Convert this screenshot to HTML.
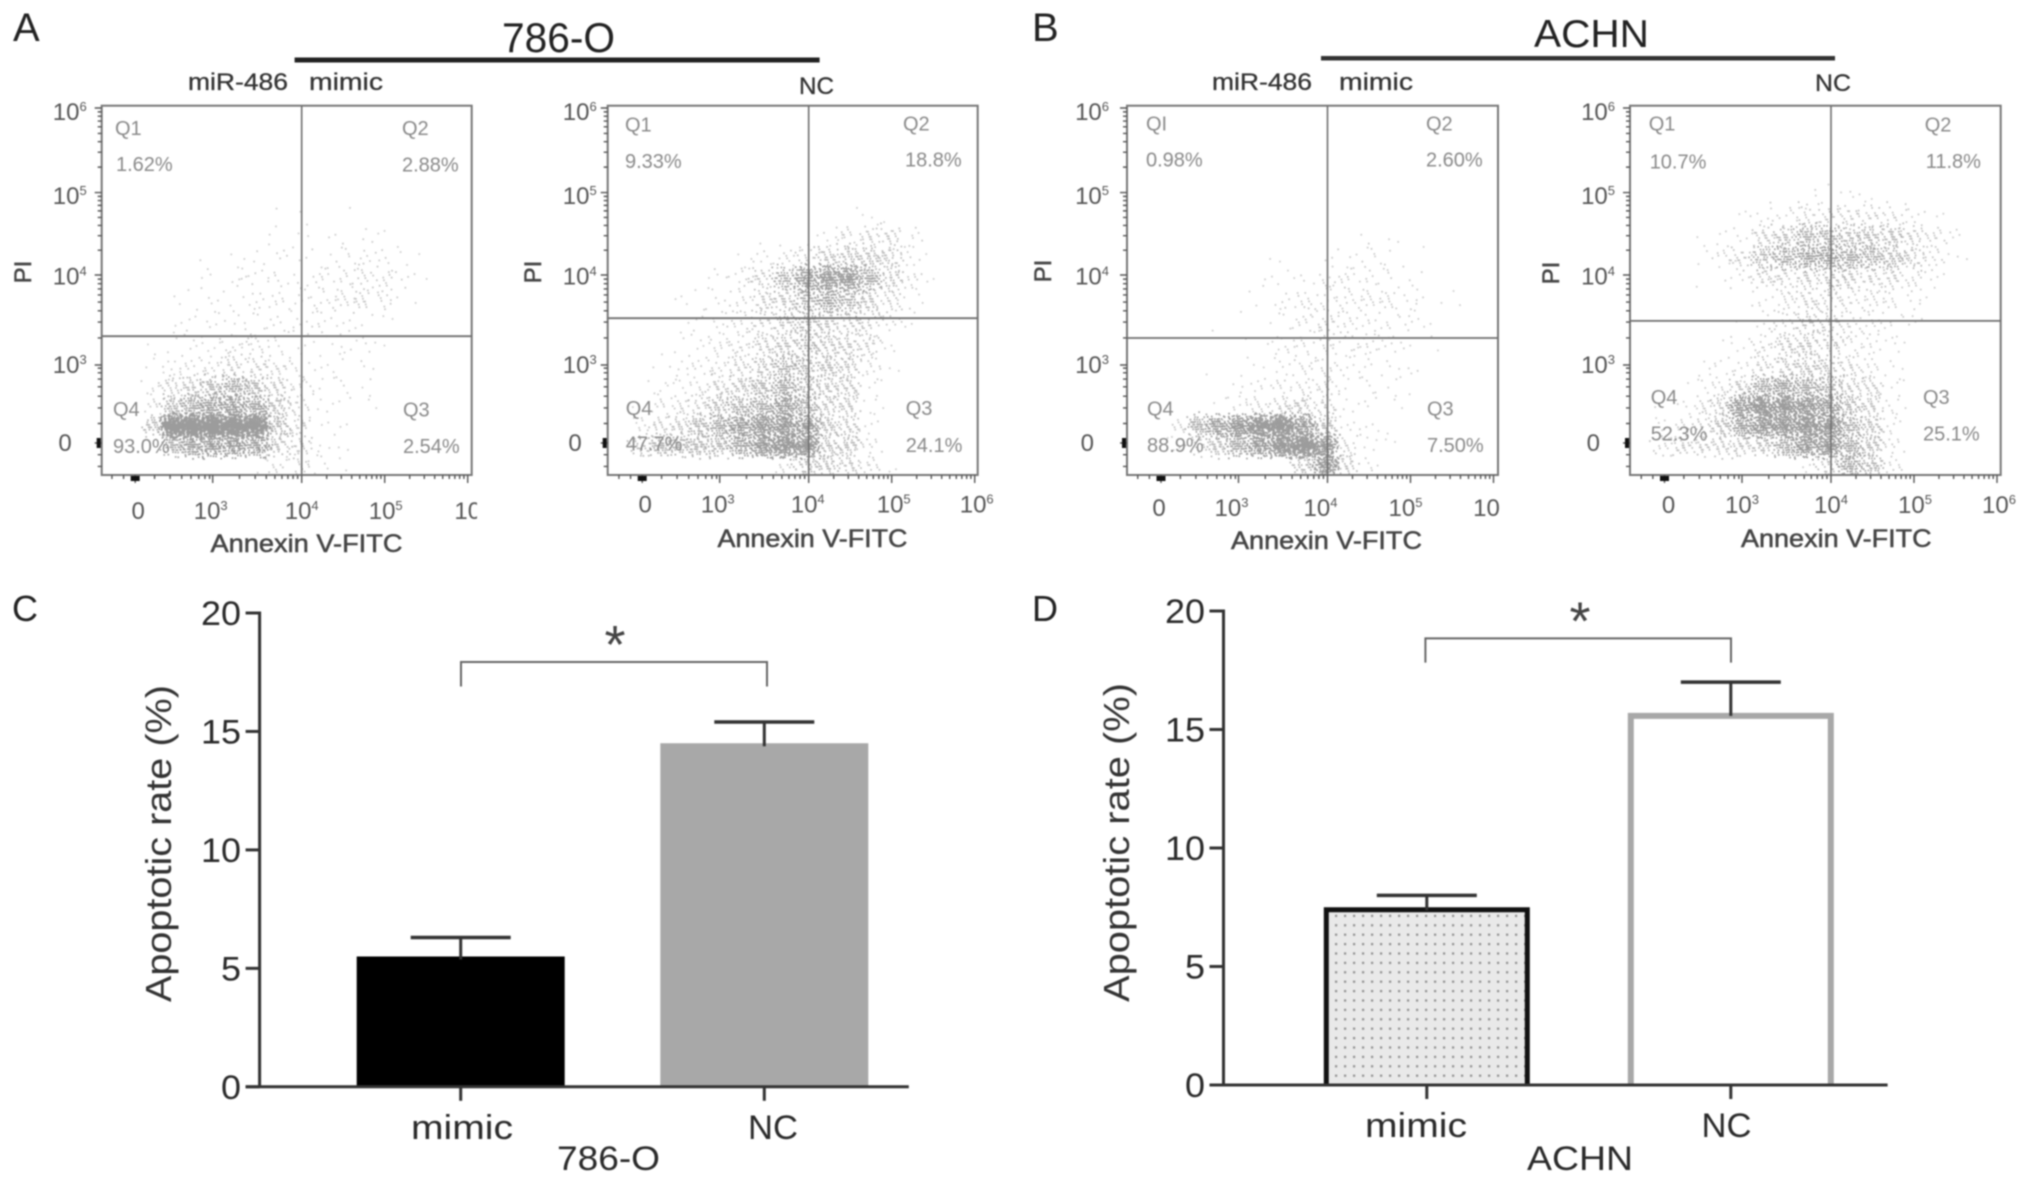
<!DOCTYPE html>
<html lang="en">
<head>
<meta charset="utf-8">
<title>Apoptosis flow cytometry and bar charts</title>
<style>
html,body{margin:0;padding:0;background:#fff;}
body{width:2031px;height:1183px;overflow:hidden;}
svg{display:block;filter:blur(0.7px);}
text{font-family:"Liberation Sans",sans-serif;}
.q{font-size:20px;fill:#8a8a8a;}
.hdr{font-size:24px;fill:#333;stroke:#333;stroke-width:.3;}
.ann{font-size:25px;fill:#444;stroke:#444;stroke-width:.5;}
.pi{font-size:24px;fill:#444;stroke:#444;stroke-width:.5;}
.lab{fill:#222;}
.cat{font-size:34px;fill:#2a2a2a;}
.ytitle{font-size:36px;fill:#333;}
</style>
</head>
<body>
<svg id="figure" xmlns="http://www.w3.org/2000/svg" width="2031" height="1183" viewBox="0 0 2031 1183">
<defs>
<pattern id="dot-pattern" width="9" height="9.4" patternUnits="userSpaceOnUse"><rect width="9" height="9.4" fill="#e9e9e9"/><rect x="3" y="3" width="2.2" height="2.2" fill="#8f8f8f"/></pattern>
<clipPath id="clip-a1"><rect x="101.7" y="105.7" width="370" height="369.3"/></clipPath>
<clipPath id="clip-a2"><rect x="607.7" y="105.7" width="370" height="369.3"/></clipPath>
<clipPath id="clip-b1"><rect x="1127" y="105.7" width="371" height="369.3"/></clipPath>
<clipPath id="clip-b2"><rect x="1630" y="105.7" width="370.7" height="369.3"/></clipPath>
<clipPath id="clip-a1-label"><rect x="440" y="490" width="37" height="40"/></clipPath>
</defs>

<g id="flow-layer"></g>
<g id="bar-layer"></g>

<text class="lab" x="13" y="41" font-size="40">A</text>
<text class="lab" x="1032" y="41" font-size="40">B</text>
<text class="lab" x="12" y="621" font-size="36">C</text>
<text class="lab" x="1032" y="621" font-size="36">D</text>

<text class="lab" x="502" y="52" font-size="42" textLength="113" lengthAdjust="spacingAndGlyphs">786-O</text>
<rect x="294.6" y="57.5" width="525" height="5" fill="#222"/>
<text class="lab" x="1534" y="47" font-size="39" textLength="115" lengthAdjust="spacingAndGlyphs">ACHN</text>
<rect x="1321" y="56" width="514" height="4.5" fill="#333"/>

<text class="hdr" x="188" y="90" textLength="100" lengthAdjust="spacingAndGlyphs">miR-486</text>
<text class="hdr" x="309" y="90" textLength="74" lengthAdjust="spacingAndGlyphs">mimic</text>
<text class="hdr" x="799" y="94" textLength="35" lengthAdjust="spacingAndGlyphs">NC</text>
<text class="hdr" x="1212" y="90" textLength="100" lengthAdjust="spacingAndGlyphs">miR-486</text>
<text class="hdr" x="1339" y="90" textLength="74" lengthAdjust="spacingAndGlyphs">mimic</text>
<text class="hdr" x="1815" y="91" textLength="36" lengthAdjust="spacingAndGlyphs">NC</text>

<g>
<text class="q" x="115" y="135">Q1</text>
<text class="q" x="116" y="171">1.62%</text>
<text class="q" x="402" y="135">Q2</text>
<text class="q" x="402" y="171.7">2.88%</text>
<text class="q" x="113" y="416">Q4</text>
<text class="q" x="113" y="453">93.0%</text>
<text class="q" x="403" y="416.7">Q3</text>
<text class="q" x="403" y="453">2.54%</text>
</g>
<g>
<text class="q" x="625" y="131.7">Q1</text>
<text class="q" x="625" y="168">9.33%</text>
<text class="q" x="903" y="130.7">Q2</text>
<text class="q" x="905" y="166.7">18.8%</text>
<text class="q" x="625.7" y="415">Q4</text>
<text class="q" x="625.7" y="450.7">47.7%</text>
<text class="q" x="905.7" y="415">Q3</text>
<text class="q" x="905.7" y="452">24.1%</text>
</g>
<g>
<text class="q" x="1146" y="130.7">QI</text>
<text class="q" x="1146" y="166.7">0.98%</text>
<text class="q" x="1426" y="130.7">Q2</text>
<text class="q" x="1426" y="166.7">2.60%</text>
<text class="q" x="1147" y="415.7">Q4</text>
<text class="q" x="1147" y="452">88.9%</text>
<text class="q" x="1427" y="415.7">Q3</text>
<text class="q" x="1427" y="452">7.50%</text>
</g>
<g>
<text class="q" x="1648.7" y="130.7">Q1</text>
<text class="q" x="1649.7" y="168.3">10.7%</text>
<text class="q" x="1924.7" y="131.7">Q2</text>
<text class="q" x="1925.7" y="168">11.8%</text>
<text class="q" x="1650.7" y="404">Q4</text>
<text class="q" x="1650.7" y="440.7">52.3%</text>
<text class="q" x="1923" y="404">Q3</text>
<text class="q" x="1923" y="440.7">25.1%</text>
</g>

<text class="ann" x="210.5" y="552" textLength="192" lengthAdjust="spacingAndGlyphs">Annexin V-FITC</text>
<text class="ann" x="717.5" y="547" textLength="190" lengthAdjust="spacingAndGlyphs">Annexin V-FITC</text>
<text class="ann" x="1231" y="549" textLength="191" lengthAdjust="spacingAndGlyphs">Annexin V-FITC</text>
<text class="ann" x="1741" y="547" textLength="190.6" lengthAdjust="spacingAndGlyphs">Annexin V-FITC</text>
<text class="pi" text-anchor="middle" transform="translate(31 272) rotate(-90)">PI</text>
<text class="pi" text-anchor="middle" transform="translate(541 272) rotate(-90)">PI</text>
<text class="pi" text-anchor="middle" transform="translate(1051 271) rotate(-90)">PI</text>
<text class="pi" text-anchor="middle" transform="translate(1559 273) rotate(-90)">PI</text>

<text class="ytitle" text-anchor="middle" textLength="317" lengthAdjust="spacingAndGlyphs" transform="translate(171 843.6) rotate(-90)">Apoptotic rate (%)</text>
<text class="ytitle" text-anchor="middle" textLength="319" lengthAdjust="spacingAndGlyphs" transform="translate(1129 842.5) rotate(-90)">Apoptotic rate (%)</text>
<text class="cat" x="557" y="1170" textLength="103" lengthAdjust="spacingAndGlyphs">786-O</text>
<text class="cat" x="1527" y="1170" textLength="106" lengthAdjust="spacingAndGlyphs">ACHN</text>
</svg>

<script>
// Flow cytometry: dot counts per grid cell.
// Rows run top to bottom, columns left to right, on the biexponential display axes.
const flowTickLabels = ['0', '3', '4', '5', '6'];
const yDecadeValues = [0, 1, 2, 3, 4];
const a1Counts = [
[0,0,0,0,0,0,0,0,1,0,0,0,0,0,0,0,0,0],
[0,0,0,0,0,0,0,0,0,2,0,1,0,0,0,0,0,0],
[0,0,0,0,0,0,0,1,2,2,0,3,3,2,0,0,0,0],
[0,0,0,0,0,1,2,4,4,3,3,6,7,6,3,1,0,0],
[0,0,0,0,1,3,4,6,6,4,8,10,14,12,4,1,0,0],
[0,0,0,1,3,4,5,7,7,6,10,12,16,10,3,0,0,0],
[0,0,0,2,3,4,5,6,8,4,8,4,3,2,0,0,0,0],
[0,0,2,3,5,5,12,12,8,4,3,4,4,2,0,0,0,0],
[0,0,3,8,10,14,24,24,16,6,4,4,4,0,0,0,0,0],
[0,0,6,26,36,50,70,50,30,10,4,4,2,0,0,0,0,0],
[0,0,10,50,70,90,100,80,40,14,3,2,2,0,0,0,0,0],
[0,0,40,260,290,300,300,250,50,18,4,2,0,0,0,0,0,0],
[0,0,0,60,80,100,110,90,36,20,4,2,0,0,0,0,0,0],
[0,0,0,0,0,0,0,2,10,14,6,2,0,0,0,0,0,0]];
const a2Counts = [
[0,0,0,0,0,0,0,0,0,0,0,0,0,0,0,0,0,0],
[0,0,0,0,0,0,0,0,0,0,0,1,2,2,0,0,0,0],
[0,0,0,0,0,0,0,0,0,0,6,14,18,22,6,0,0,0],
[0,0,0,0,0,0,2,8,12,18,36,40,40,30,8,1,0,0],
[0,0,0,0,1,4,10,26,60,110,130,130,70,36,10,2,0,0],
[0,0,0,2,3,6,14,26,36,60,80,60,36,20,6,0,0,0],
[0,0,0,1,3,6,14,24,36,50,36,30,24,10,3,0,0,0],
[0,0,0,3,5,12,16,28,40,50,40,34,22,4,0,0,0,0],
[0,0,2,5,10,14,24,40,60,50,40,36,12,2,0,0,0,0],
[0,0,4,8,10,24,36,50,70,50,36,30,6,0,0,0,0,0],
[0,1,10,14,20,44,60,70,100,60,36,30,4,0,0,0,0,0],
[0,8,20,30,50,70,100,130,140,110,40,30,6,0,0,0,0,0],
[0,30,50,50,50,50,80,130,170,150,40,36,10,0,0,0,0,0],
[0,0,0,0,0,0,0,0,10,40,36,30,14,2,0,0,0,0]];
const b1Counts = [
[0,0,0,0,0,0,0,0,0,0,0,0,0,0,0,0,0,0],
[0,0,0,0,0,0,0,0,0,0,0,0,0,0,0,0,0,0],
[0,0,0,0,0,0,0,0,0,0,0,2,2,0,0,0,0,0],
[0,0,0,0,0,0,0,2,0,2,4,6,3,0,1,0,0,0],
[0,0,0,0,0,0,2,2,4,8,10,8,6,4,0,0,0,0],
[0,0,0,0,0,1,3,6,10,12,12,12,12,6,3,2,0,0],
[0,0,0,0,1,0,0,5,12,16,12,8,8,6,2,0,0,0],
[0,0,0,0,0,0,2,8,10,12,8,10,6,3,2,0,0,0],
[0,0,0,1,0,2,2,6,10,12,6,6,4,3,0,0,0,0],
[0,0,0,0,0,3,6,10,14,14,4,4,4,2,0,0,0,0],
[0,0,0,0,4,8,16,24,30,20,4,3,2,0,0,0,0,0],
[0,0,10,60,90,130,190,220,120,40,6,3,2,0,0,0,0,0],
[0,0,4,20,40,70,120,180,240,130,16,4,2,0,0,0,0,0],
[0,0,0,0,0,0,0,0,40,130,30,6,1,0,0,0,0,0]];
const b2Counts = [
[0,0,0,0,0,0,0,0,2,4,3,2,0,0,0,0,0,0],
[0,0,0,0,0,2,6,12,18,18,18,18,14,8,2,0,0,0],
[0,0,0,1,3,6,24,40,60,60,44,44,40,26,14,4,0,0],
[0,0,0,3,8,20,50,70,80,84,70,60,50,30,14,3,0,0],
[0,0,0,1,3,6,20,24,30,36,30,24,24,14,4,0,0,0],
[0,0,0,0,0,0,8,14,20,24,14,14,10,6,2,0,0,0],
[0,0,0,0,0,1,6,18,30,26,14,12,6,4,0,0,0,0],
[0,0,0,0,2,3,16,30,36,30,14,8,4,1,0,0,0,0],
[0,0,0,3,6,10,20,34,40,36,20,12,4,0,0,0,0,0],
[0,0,0,6,12,30,70,80,70,60,30,24,6,0,0,0,0,0],
[0,1,4,14,30,110,170,160,130,100,50,30,8,0,0,0,0,0],
[0,4,10,20,40,80,130,140,170,140,60,40,8,0,0,0,0,0],
[0,14,24,24,24,30,40,70,120,130,70,40,10,0,0,0,0,0],
[0,0,0,0,0,0,0,0,4,30,70,50,10,0,0,0,0,0]];

// Bar charts
const barCategories = ['mimic', 'NC'];
const c786Values = [5.5, 14.5];
const c786ErrorTops = [6.3, 15.4];
const dAchnValues = [7.5, 15.7];
const dAchnErrorTops = [8.0, 17.0];
const barTickValues = [0, 5, 10, 15, 20];

const NS = 'http://www.w3.org/2000/svg';
function make(parent, tag, attrs, txt) {
  const el = document.createElementNS(NS, tag);
  for (const k in attrs) el.setAttribute(k, attrs[k]);
  if (txt !== undefined) el.textContent = txt;
  parent.appendChild(el);
  return el;
}
function piecewise(domain, range) {
  return function (v) {
    let i = 0;
    while (i < domain.length - 2 && v > domain[i + 1]) i++;
    return range[i] + (v - domain[i]) * (range[i + 1] - range[i]) / (domain[i + 1] - domain[i]);
  };
}
function frac(v) { return v - Math.floor(v); }

const flowPanels = [
  {key:'a-mimic', clip:'clip-a1', counts:a1Counts, left:101.7, right:471.7, shift:0, hGate:1.32, yGap:15, xBase:519, labelShift:[3,-2,0,1,0], lastLabel:'10', lastClip:'clip-a1-label'},
  {key:'a-nc', clip:'clip-a2', counts:a2Counts, left:607.7, right:977.7, shift:1, hGate:1.52, yGap:11, xBase:512.5, labelShift:[3,-2,-1,2,2], lastLabel:null, lastClip:null},
  {key:'b-mimic', clip:'clip-b1', counts:b1Counts, left:1127, right:1498, shift:0.5, hGate:1.30, yGap:18, xBase:516, labelShift:[-2,-7,-7,-5,-7], lastLabel:'10', lastClip:null},
  {key:'b-nc', clip:'clip-b2', counts:b2Counts, left:1630, right:2000.7, shift:1, hGate:1.49, yGap:15, xBase:513, labelShift:[4,0,0,1,2], lastLabel:null, lastClip:null}
];
const yLabelDrop = [8, 8, 9.5, 11.5, 12];
const flowLayer = document.getElementById('flow-layer');
const TOP = 105.7, BOTTOM = 475;

flowPanels.forEach(function (p) {
  const g = make(flowLayer, 'g', {});
  
  
  const x = piecewise(yDecadeValues, [33.5, 111, 200, 283, 366].map(function (o) { return p.left + p.shift + o; }));
  const y = piecewise(yDecadeValues, [443, 365, 275, 192.6, 108]);

  const dots = make(g, 'g', {'clip-path': 'url(#' + p.clip + ')', fill: '#9c9c9c'});
  
  
  p.counts.forEach(function (row, r) {
    row.forEach(function (n, c) {
      if (!n) return;
      const x0 = x(-0.4 + 0.25 * c), x1 = x(-0.4 + 0.25 * (c + 1));
      const y0 = y(3.1 - 0.25 * r), y1 = y(3.1 - 0.25 * (r + 1));
      let d = '';
      for (let k = 0; k < n; k++) {
        const i = k + 1;
        const su = frac(i * 0.8566749 + r * 0.37 + c * 0.61) + frac(i * 0.7338919 + r * 0.11 + c * 0.43);
        const sv = frac(i * 0.6287067 + r * 0.53 + c * 0.29) + frac(i * 0.5385973 + r * 0.71 + c * 0.17);
        const px = x0 + (x1 - x0) * (-0.25 + 0.75 * su);
        const py = y0 + (y1 - y0) * (-0.25 + 0.75 * sv);
        d += 'M' + px.toFixed(1) + ' ' + py.toFixed(1) + 'h1.7v1.7h-1.7z';
      }
      const cell = make(dots, 'path', {d: d, 'fill-opacity': (0.5 + 0.5 * Math.min(1, n / 80)).toFixed(2)});
      
      
    });
  });

  const frame = make(g, 'rect', {x: p.left, y: TOP, width: p.right - p.left, height: BOTTOM - TOP, fill: 'none', stroke: '#777', 'stroke-width': 2});
  
  
  const vg = make(g, 'line', {x1: x(2), x2: x(2), y1: TOP, y2: BOTTOM, stroke: '#6f6f6f', 'stroke-width': 1.6});
  
  
  const hg = make(g, 'line', {x1: p.left, x2: p.right, y1: y(p.hGate), y2: y(p.hGate), stroke: '#6f6f6f', 'stroke-width': 1.8});
  
  

  // Minor and major ticks
  let dx = '', dy = '';
  yDecadeValues.forEach(function (v) {
    dx += 'M' + x(v) + ' ' + BOTTOM + 'v8';
    dy += 'M' + p.left + ' ' + y(v) + 'h-7';
    if (v === 0) {
      [-0.3, -0.15].forEach(function (m) { dx += 'M' + x(m) + ' ' + BOTTOM + 'v4'; dy += 'M' + p.left + ' ' + y(m) + 'h-4'; });
      [0.25, 0.45, 0.6, 0.72, 0.82, 0.9, 0.96].forEach(function (m) { dx += 'M' + x(m) + ' ' + BOTTOM + 'v4'; dy += 'M' + p.left + ' ' + y(m) + 'h-4'; });
    } else if (v < 4) {
      for (let k = 2; k < 10; k++) {
        const m = v + Math.log10(k);
        dx += 'M' + x(m) + ' ' + BOTTOM + 'v4';
        dy += 'M' + p.left + ' ' + y(m) + 'h-4';
      }
    }
  });
  const xt = make(g, 'path', {d: dx, stroke: '#555', 'stroke-width': 1.4, fill: 'none'});
  
  
  const yt = make(g, 'path', {d: dy, stroke: '#555', 'stroke-width': 1.4, fill: 'none'});
  
  
  const zx = make(g, 'rect', {x: x(0) - 4.5, y: BOTTOM + 1, width: 9, height: 5, fill: '#111'});
  
  
  const zy = make(g, 'rect', {x: p.left - 5, y: y(0) - 5, width: 4, height: 10, fill: '#111'});
  
  

  // Tick labels
  flowTickLabels.forEach(function (lab, i) {
    const style = {'font-size': 24, fill: '#555'};
    const ya = Object.assign({x: p.left - p.yGap - (i === 0 ? 15 : 0), y: y(i) + yLabelDrop[i], 'text-anchor': 'end'}, style);
    const yl = make(g, 'text', ya, i === 0 ? '0' : '10');
    
    
    if (i > 0) {
      const s = make(yl, 'tspan', {dy: -9, 'font-size': 13}, lab);
      
      
    }
    const plain = i === 4 && p.lastLabel;
    const cx = x(i) + p.labelShift[i];
    const xa = Object.assign({x: cx, y: p.xBase, 'text-anchor': 'middle'}, style);
    if (plain && p.lastClip) xa['clip-path'] = 'url(#' + p.lastClip + ')';
    const xl = make(g, 'text', xa, i === 0 ? '0' : '10');
    
    
    if (i > 0 && !plain) {
      const s2 = make(xl, 'tspan', {dy: -9, 'font-size': 13}, lab);
      
      
    }
  });
});

// Bar charts
const barCharts = [
  {key:'c', values:c786Values, tops:c786ErrorTops, y0:1086.8, y20:613, axisX:259.6, axisEnd:908.8, xFirst:460.7, xStep:303.6, barW:208, bracketTop:662, bracketBottom:686.5, bracketL:461, bracketR:767, starX:615, starY:663, labelEnd:241, labelY:1139,
    styles:[{fill:'#000', stroke:'none', sw:0},{fill:'#a8a8a8', stroke:'none', sw:0}], labelX:[462,773]},
  {key:'d', values:dAchnValues, tops:dAchnErrorTops, y0:1085, y20:611, axisX:1223.5, axisEnd:1887.6, xFirst:1426.8, xStep:304, barW:206, bracketTop:638.4, bracketBottom:662.6, bracketL:1425.4, bracketR:1731, starX:1580, starY:639.5, labelEnd:1205, labelY:1137,
    styles:[{fill:'url(#dot-pattern)', stroke:'#111', sw:5},{fill:'#fff', stroke:'#a8a8a8', sw:6}], labelX:[1416,1726.5]}
];
const barLayer = document.getElementById('bar-layer');
barCharts.forEach(function (ch) {
  const g = make(barLayer, 'g', {});
  
  
  const y = function (v) { return ch.y0 + (ch.y20 - ch.y0) * v / 20; };
  const x = function (i) { return ch.xFirst + ch.xStep * i; };

  ch.values.forEach(function (v, i) {
    const st = ch.styles[i], T = y(v), sw = st.sw;
    const L = x(i) - ch.barW / 2 + sw / 2, R = x(i) + ch.barW / 2 - sw / 2, TT = T + sw / 2;
    const bar = make(g, 'path', {d: 'M' + L + ' ' + y(0) + 'V' + TT + 'H' + R + 'V' + y(0), fill: st.fill, stroke: st.stroke, 'stroke-width': sw});
    
    
    const e = y(ch.tops[i]);
    const stem = make(g, 'line', {x1: x(i), x2: x(i), y1: e, y2: T + 3, stroke: '#333', 'stroke-width': 3});
    
    
    const cap = make(g, 'line', {x1: x(i) - 50, x2: x(i) + 50, y1: e, y2: e, stroke: '#333', 'stroke-width': 3.5});
    
    
    const tick = make(g, 'line', {x1: x(i), x2: x(i), y1: y(0), y2: y(0) + 14, stroke: '#333', 'stroke-width': 3});
    
    
    const lab = make(g, 'text', {x: ch.labelX[i], y: ch.labelY, 'text-anchor': 'middle', 'font-size': 34, fill: '#2a2a2a', textLength: i === 0 ? 102 : 50, lengthAdjust: 'spacingAndGlyphs'}, barCategories[i]);
    
    
  });

  const yAxis = make(g, 'line', {x1: ch.axisX, x2: ch.axisX, y1: y(20) - 1.5, y2: y(0), stroke: '#333', 'stroke-width': 3});
  
  
  const xAxis = make(g, 'line', {x1: ch.axisX - 14, x2: ch.axisEnd, y1: y(0), y2: y(0), stroke: '#333', 'stroke-width': 3});
  
  
  barTickValues.forEach(function (v) {
    const t = make(g, 'line', {x1: ch.axisX - 14, x2: ch.axisX, y1: y(v), y2: y(v), stroke: '#333', 'stroke-width': 3});
    
    
    const w = String(v).length === 2 ? 40 : 20;
    const l = make(g, 'text', {x: ch.labelEnd, y: y(v) + 12, 'text-anchor': 'end', 'font-size': 34, fill: '#2a2a2a', textLength: w, lengthAdjust: 'spacingAndGlyphs'}, String(v));
    
    
  });

  const br = make(g, 'path', {d: 'M' + ch.bracketL + ' ' + ch.bracketBottom + 'V' + ch.bracketTop + 'H' + ch.bracketR + 'V' + ch.bracketBottom, fill: 'none', stroke: '#666', 'stroke-width': 2});
  
  
  const star = make(g, 'text', {x: ch.starX, y: ch.starY, 'text-anchor': 'middle', 'font-size': 54, fill: '#444'}, '*');
  
  
});
</script>
</body>
</html>
